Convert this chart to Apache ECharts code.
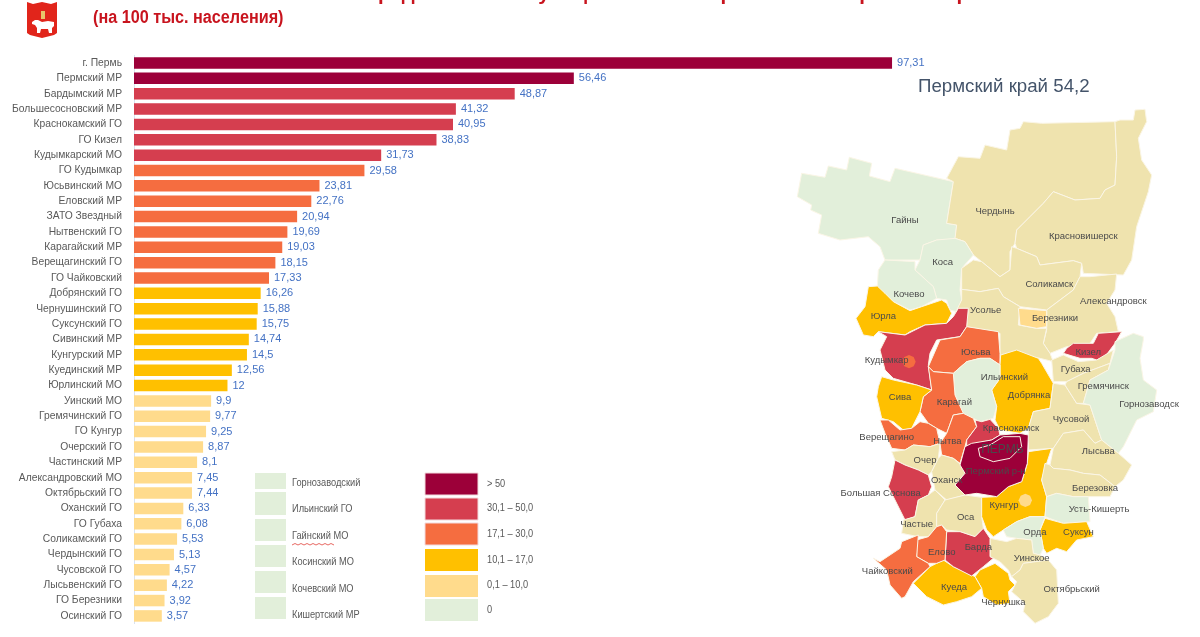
<!DOCTYPE html>
<html>
<head>
<meta charset="utf-8">
<script src="https://cdn.jsdelivr.net/npm/echarts@6/dist/echarts.min.js"></script>
<style>html,body{margin:0;padding:0;background:#fff}#c{width:1200px;height:637px}</style>
</head>
<body>
<div id="c"></div>
<script>
const titleLine1 = 'Заболеваемость COVID-19 среди жителей муниципальных образований Пермского края';
const titleLine2 = '(на 100 тыс. населения)';
const mapTitle = 'Пермский край 54,2';

const categories = ['г. Пермь','Пермский МР','Бардымский МР','Большесосновский МР','Краснокамский ГО','ГО Кизел','Кудымкарский МО','ГО Кудымкар','Юсьвинский МО','Еловский МР','ЗАТО Звездный','Нытвенский ГО','Карагайский МР','Верещагинский ГО','ГО Чайковский','Добрянский ГО','Чернушинский ГО','Суксунский ГО','Сивинский МР','Кунгурский МР','Куединский МР','Юрлинский МО','Уинский МО','Гремячинский ГО','ГО Кунгур','Очерский ГО','Частинский МР','Александровский МО','Октябрьский ГО','Оханский ГО','ГО Губаха','Соликамский ГО','Чердынский ГО','Чусовской ГО','Лысьвенский ГО','ГО Березники','Осинский ГО'];
const values = [97.31,56.46,48.87,41.32,40.95,38.83,31.73,29.58,23.81,22.76,20.94,19.69,19.03,18.15,17.33,16.26,15.88,15.75,14.74,14.5,12.56,12,9.9,9.77,9.25,8.87,8.1,7.45,7.44,6.33,6.08,5.53,5.13,4.57,4.22,3.92,3.57];

const bandLabels = ['> 50','30,1 – 50,0','17,1 – 30,0','10,1 – 17,0','0,1 – 10,0','0'];
const bandColors = ['#9C0039','#D53E4F','#F56D40','#FFC000','#FFDB8C','#E2EFDA'];
const mapBandColors = ['#9C0039','#D53E4F','#F56D40','#FFC000','#EFE3AE','#E2EFDA'];
const zeroList = ['Горнозаводский','Ильинский ГО','Гайнский МО','Косинский МО','Кочевский МО','Кишертский МР'];

// map label -> bar category (regions without a bar are read from their colour band)
const regionSource = {'ПЕРМЬ':'г. Пермь','Пермский р-н':'Пермский МР','Барда':'Бардымский МР','Большая Соснова':'Большесосновский МР','Краснокамск':'Краснокамский ГО','Кизел':'ГО Кизел','Кудымкар':'Кудымкарский МО','Юсьва':'Юсьвинский МО','Елово':'Еловский МР','Нытва':'Нытвенский ГО','Карагай':'Карагайский МР','Верещагино':'Верещагинский ГО','Чайковский':'ГО Чайковский','Добрянка':'Добрянский ГО','Чернушка':'Чернушинский ГО','Суксун':'Суксунский ГО','Сива':'Сивинский МР','Кунгур':'Кунгурский МР','Куеда':'Куединский МР','Юрла':'Юрлинский МО','Уинское':'Уинский МО','Гремячинск':'Гремячинский ГО','Очер':'Очерский ГО','Частые':'Частинский МР','Александровск':'Александровский МО','Октябрьский':'Октябрьский ГО','Оханск':'Оханский ГО','Губаха':'ГО Губаха','Соликамск':'Соликамский ГО','Чердынь':'Чердынский ГО','Чусовой':'Чусовской ГО','Лысьва':'Лысьвенский ГО','Березники':'ГО Березники','Оса':'Осинский ГО','dotKudymkar':'ГО Кудымкар','dotKungur':'ГО Кунгур'};
const regionZero = ['Гайны','Коса','Кочево','Ильинский','Горнозаводск','Усть-Кишерть','Орда'];

function bandOf(v){ return v>50?0:v>30?1:v>17?2:v>10?3:v>0?4:5; }

// Map outlines: a = upper crop, b = lower crop, c = label point
const F = [];
function A(x,y){ return [790+x/3, 70+y/3]; }
function B(x,y){ return [790+x/3, 340+y/3]; }
function pairs(f,arr){ const o=[]; for(let i=0;i<(arr||[]).length;i+=2) o.push(f(arr[i],arr[i+1])); return o; }
function R(name,a,b,c){ F.push({name,ring:pairs(A,a).concat(pairs(B,b)),c}); }

R('Гайны',[22,380,35,310,105,322,115,288,170,300,178,262,245,280,238,318,300,335,315,295,490,335,470,460,500,465,495,510,440,510,400,525,390,570,285,570,270,530,235,500,150,510,85,490,95,435,62,420,65,405],null,A(345,450));
R('Чердынь',[470,325,505,260,570,265,585,225,650,240,660,180,690,175,700,155,755,160,975,155,980,260,975,345,945,360,930,385,855,390,790,365,760,400,720,440,680,480,675,520,660,545,660,600,630,620,575,575,550,555,525,515,495,505,500,465,470,460,490,335],null,A(615,425));
R('Красновишерск',[975,155,990,150,1030,150,1035,120,1065,118,1070,155,1045,205,1055,270,1085,315,1075,365,1060,410,1040,470,1025,570,1000,615,880,610,875,580,850,572,750,585,740,560,680,535,675,520,680,480,720,440,760,400,790,365,855,390,930,385,945,360,975,345,980,260],null,A(880,500));
R('Коса',[400,525,440,510,495,505,525,515,550,555,515,595,510,660,515,690,500,725,480,720,470,690,440,685,430,650,375,600,390,570],null,A(458,578));
R('Кочево',[285,570,375,575,375,600,430,650,440,685,395,710,360,720,310,695,285,670,262,650,265,600],null,A(357,672));
R('Юрла',[235,650,262,648,285,670,310,695,360,722,395,710,455,690,470,700,485,730,470,760,405,765,360,785,345,795,265,785,250,800,220,795,198,745,225,710],null,A(280,740));
R('Соликамск',[515,595,550,570,575,575,630,620,660,600,665,530,680,535,740,560,750,585,850,572,875,580,870,620,850,660,810,690,770,720,690,710,640,680,625,655,570,665,515,658],null,A(778,642));
R('Александровск',[870,620,900,620,980,612,975,660,950,700,975,740,985,785,920,790,900,820,830,830,780,850,760,820,770,780,770,720,810,690,850,660],null,A(970,693));
R('Усолье',[515,658,570,665,625,655,640,680,690,710,685,765,740,775,770,775,760,820,780,850,790,875,750,865,700,855,630,860,630,790,530,770,535,715,505,715,495,730,515,690],null,A(587,722));
R('Березники',[685,715,770,722,770,770,740,775,690,765],null,A(795,745));
R('Кудымкар',[265,785,345,795,405,765,470,760,490,740,505,715,535,715,530,770,510,800,440,810,420,850],[415,75,425,150,380,135,310,115,285,90,270,30,285,0,290,-10],B(290,60));
R('Юсьва',[530,770,625,785,630,850],[630,75,600,55,570,55,530,65,490,100,430,95,415,80,450,0,510,-10],B(557,37));
R('Кизел',[830,835,850,820,910,820,925,790,995,785,975,820,945,860,920,870],[905,55,870,55,820,40],B(895,37));
R('Добрянка',null,[632,45,680,30,745,55,755,70,790,130,780,205,730,215,715,265,690,280,630,270,615,240,620,200,605,150,630,115,630,75],B(717,167));
R('Ильинский',null,[490,100,530,65,570,55,600,55,630,75,630,115,605,150,620,200,610,235,570,245,550,235,520,220,495,165],B(643,113));
R('Карагай',null,[430,95,490,100,495,165,520,220,490,225,470,280,440,265,415,250,390,215,400,170,425,150,415,80],B(493,187));
R('Сива',null,[265,140,275,110,310,120,380,135,425,150,400,170,390,215,365,265,340,270,310,245,275,235,260,170],B(330,173));
R('Верещагино',null,[270,240,295,240,330,270,365,265,390,245,415,250,440,265,450,310,420,320,370,315,345,330,305,325,285,280],B(290,293));
R('Очер',null,[305,335,345,330,370,315,420,320,450,310,445,355,425,395,415,405,385,390,345,375,315,360],B(405,360));
R('Нытва',null,[470,280,490,225,520,220,550,235,560,260,530,300,525,320,510,370,490,355,455,345,450,310],B(472,305));
R('Краснокамск',null,[530,300,560,260,555,240,575,245,600,238,625,265,630,285,605,300,560,310,530,320],B(663,265));
R('Оханск',null,[455,345,490,355,510,372,525,400,495,435,525,465,470,480,435,450,425,395,445,355],B(470,420));
R('Большая Соснова',null,[315,360,345,375,385,390,415,405,425,440,415,465,385,480,375,530,345,540,330,510,295,440,305,410],B(272,460));
R('Частые',null,[385,480,415,465,435,450,465,480,440,520,440,560,415,590,385,590,335,580,340,540,375,530],B(380,553));
R('Оса',null,[465,480,525,465,575,472,575,530,580,565,555,590,510,575,470,570,455,555,440,560,440,520],B(527,533));
R('Кунгур',null,[715,335,785,325,770,370,755,420,770,470,765,530,720,530,680,545,640,570,610,590,590,570,575,530,575,472,620,470,655,440,695,425,712,370],B(642,497));
R('Чусовой',null,[730,215,780,205,790,130,825,135,860,190,900,195,935,300,915,310,880,270,820,280,790,325,715,330,715,265],B(843,237));
R('Губаха',null,[790,125,785,60,820,45,865,65,920,60,970,30,960,70,880,100,830,125],B(857,87));
R('Гремячинск',null,[830,125,880,100,960,70,955,90,900,120,880,190,860,190,825,135],B(940,138));
R('Горнозаводск',[975,815,1030,790,1060,800,1060,810],[1060,0,1050,55,1060,120,1100,150,1090,215,1040,240,1000,320,985,340,935,300,900,195,880,190,900,120,955,90,975,30],B(1077,193));
R('Лысьва',null,[790,325,820,280,880,270,915,310,935,300,985,340,1025,375,1000,420,975,440,930,405,880,400,840,390,790,385,780,375],B(925,335));
R('Березовка',null,[765,370,780,375,790,385,840,390,880,400,930,405,975,440,960,470,895,470,850,470,800,460,770,470,755,420],B(915,445));
R('Усть-Кишерть',null,[770,470,800,460,850,470,895,470,900,545,820,550,765,530],B(927,508));
R('Суксун',null,[765,535,820,550,890,545,910,590,860,600,830,635,800,625,770,640,760,625,750,570],B(865,577));
R('Орда',null,[640,570,680,545,720,530,765,530,750,570,760,625,750,645,730,640,725,600,680,595,650,590],B(735,578));
R('Уинское',null,[600,595,650,605,680,595,725,600,730,640,750,645,775,660,700,670,690,690,665,710,655,690,630,665,600,650],B(725,655));
R('Октябрьский',null,[700,670,775,660,800,690,805,790,775,830,735,850,700,815,705,790,665,755,680,725,665,710,690,690],B(845,748));
R('Чернушка',null,[555,710,570,690,615,670,655,700,660,720,675,735,655,755,660,790,620,795,580,770,575,745],B(640,787));
R('Куеда',null,[370,730,420,680,460,660,490,680,545,705,555,710,575,745,545,770,500,785,460,795,410,770],B(492,743));
R('Барда',null,[470,575,510,575,555,590,580,565,600,595,600,650,610,655,580,680,545,708,490,680,465,660],B(565,623));
R('Елово',null,[380,600,415,590,440,560,455,555,470,575,465,660,440,670,415,670,380,650],B(455,637));
R('Чайковский',null,[335,605,385,585,380,650,415,670,420,680,370,725,345,770,335,775,300,735,290,690,250,655,270,665,330,625],B(292,693));
R('Пермский р-н',null,[545,310,605,300,630,285,690,280,715,285,712,370,695,425,655,440,620,470,560,460,525,465,495,435,525,400,510,375,525,320],B(617,393));
R('ПЕРМЬ',null,[565,325,600,315,640,290,690,290,695,320,660,355,610,365,570,350],B(637,328));
R('dotKudymkar',null,[357,45,371,51,377,65,371,79,357,85,343,79,337,65,343,51],B(357,65));
R('dotKungur',null,[706,461,720,467,726,481,720,495,706,501,692,495,686,481,692,467],B(706,481));

// Coordinates keep the reference's pixel frame; the y axis is flipped for the map projection
const flip = p => [p[0], -p[1]];
const geoJson = {type:'FeatureCollection',features:F.map(f=>({type:'Feature',properties:{name:f.name,cp:flip(f.c)},geometry:{type:'Polygon',coordinates:[f.ring.map(flip).concat([flip(f.ring[0])])]}}))};
echarts.registerMap('perm',geoJson);
let x0=1e9,x1=-1e9,y0=1e9,y1=-1e9;
F.forEach(f=>f.ring.forEach(p=>{x0=Math.min(x0,p[0]);x1=Math.max(x1,p[0]);y0=Math.min(y0,p[1]);y1=Math.max(y1,p[1]);}));

function regionColor(name){
  if(name==='Березники'||name==='dotKungur') return bandColors[4];
  if(name==='dotKudymkar') return bandColors[2];
  if(regionZero.indexOf(name)>=0) return mapBandColors[5];
  const s=regionSource[name];
  return s?mapBandColors[bandOf(values[categories.indexOf(s)])]:mapBandColors[4];
}
const regionData = F.map(f=>{
  const s=regionSource[f.name];
  const isDot=f.name.indexOf('dot')===0;
  return {
    name:f.name,
    value:s?values[categories.indexOf(s)]:0,
    itemStyle:{areaColor:regionColor(f.name),borderColor:isDot?'transparent':'#FBF6E6',borderWidth:isDot?0:1},
    label:{show:!isDot,fontSize:f.name==='ПЕРМЬ'?12:9.5}
  };
});

const SANS='"Liberation Sans",Arial,sans-serif';

const g=[];
zeroList.forEach((t,i)=>{
  const tops=[473,492,519,545,571,597], hs=[16,23,22,22,22,22], ty=[483,509,536,562,589,615];
  g.push({type:'rect',shape:{x:255,y:tops[i],width:31,height:hs[i]},style:{fill:bandColors[5]},silent:true});
  g.push({type:'text',x:292,y:ty[i],scaleX:0.88,style:{text:t,font:'10.5px '+SANS,fill:'#595959',textVerticalAlign:'middle'},silent:true});
});
g.push({type:'polyline',shape:{points:[[292,545],[295,543.5],[298,545],[301,543.5],[304,545],[307,543.5],[310,545],[313,543.5],[316,545],[319,543.5],[322,545],[325,543.5],[328,545],[331,543.5],[334,545]]},style:{stroke:'#E0413A',lineWidth:0.8,fill:null},silent:true});
bandLabels.forEach((t,i)=>{
  const tops=[473,498,523,549,575,599], ty=[484,508,534,560,585,610];
  g.push({type:'rect',shape:{x:425,y:tops[i],width:53,height:22},style:{fill:bandColors[i],stroke:'#F2D9DC',lineWidth:i<3?1:0},silent:true});
  g.push({type:'text',x:487,y:ty[i],scaleX:0.88,style:{text:t,font:'10.5px '+SANS,fill:'#595959',textVerticalAlign:'middle'},silent:true});
});
// Coat of arms
g.push({type:'polygon',shape:{points:[[27,2],[33,4],[42,2],[51,4],[57,2],[57,33],[54,35],[42,38],[30,35],[27,33]]},style:{fill:'#E1251B'},silent:true});
g.push({type:'polygon',shape:{points:[[32,22],[35,20],[38,20],[42,22],[48,21],[54,22],[54,26],[52,28],[52,33],[49,33],[48,29],[41,29],[40,33],[37,33],[37,28],[35,25],[32,24]]},style:{fill:'#fff'},silent:true});
g.push({type:'rect',shape:{x:41,y:11,width:4,height:8},style:{fill:'#E8C56B'},silent:true});
// Condensed second title line
g.push({type:'text',x:93,y:18,scaleX:0.9,style:{text:titleLine2,font:'bold 18px '+SANS,fill:'#C8141E',textVerticalAlign:'middle'},silent:true});

const option={
  animation:false,
  backgroundColor:'#fff',
  title:[
    {text:titleLine1,left:93,top:-16,textStyle:{fontFamily:SANS,fontWeight:'bold',fontSize:20.4,color:'#C8141E'},padding:0},
    {text:mapTitle,left:918,top:77,textStyle:{fontFamily:SANS,fontWeight:'normal',fontSize:18.7,color:'#44546A'},padding:0}
  ],
  grid:{left:134,top:55.3,width:779,height:568.3,containLabel:false},
  xAxis:{type:'value',min:0,max:100,show:false},
  yAxis:{type:'category',inverse:true,data:categories,
    axisLine:{show:true,lineStyle:{color:'#D9E2F0',width:1}},axisTick:{show:false},
    axisLabel:{interval:0,margin:12,fontFamily:SANS,fontSize:10.3,color:'#595959'}},
  series:[
    {type:'bar',barWidth:11.5,silent:true,
      data:values.map(v=>({value:v,itemStyle:{color:bandColors[bandOf(v)]}})),
      label:{show:true,position:'right',distance:5,fontFamily:SANS,fontSize:11,color:'#4472C4',
        formatter:p=>String(p.value).replace('.',',')}},
    {type:'map',map:'perm',aspectScale:1,silent:true,roam:false,
      left:x0,top:y0,width:x1-x0,height:y1-y0,
      label:{show:true,fontFamily:SANS,fontSize:9.5,color:'#4A4A4A'},
      emphasis:{disabled:true},select:{disabled:true},
      data:regionData}
  ],
  graphic:g
};
const chart=echarts.init(document.getElementById('c'),null,{renderer:'canvas'});
chart.setOption(option);
</script>
</body>
</html>
